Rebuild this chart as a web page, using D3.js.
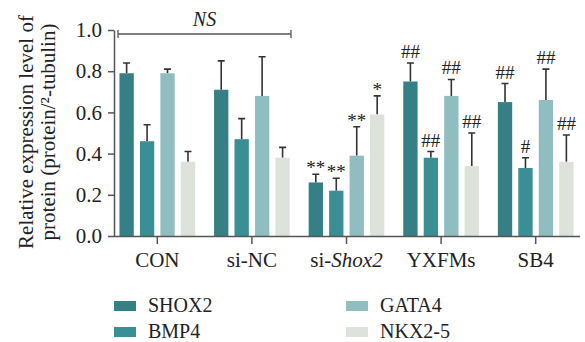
<!DOCTYPE html>
<html>
<head>
<meta charset="utf-8">
<script src="https://cdn.jsdelivr.net/npm/d3@7"></script>
<style>
  body { margin: 0; background: #fff; }
  svg text { font-family: "Liberation Serif", "DejaVu Serif", serif; fill: #222; }
</style>
</head>
<body>
<div id="chart"></div>
<script>
const width = 585, height = 342

const groups = ["CON", "si-NC", "si-Shox2", "YXFMs", "SB4"]
const series = ["SHOX2", "BMP4", "GATA4", "NKX2-5"]
const colors = ["#367f84", "#3a8f95", "#8fbdc0", "#dde3da"]

// mean values per group, in series order
const means = [
    [0.79, 0.46, 0.79, 0.36],
    [0.71, 0.47, 0.68, 0.38],
    [0.26, 0.22, 0.39, 0.59],
    [0.75, 0.38, 0.68, 0.34],
    [0.65, 0.33, 0.66, 0.36]
]
// top of error bar
const errTops = [
    [0.84, 0.54, 0.81, 0.41],
    [0.85, 0.57, 0.87, 0.43],
    [0.30, 0.28, 0.53, 0.68],
    [0.84, 0.41, 0.76, 0.50],
    [0.74, 0.38, 0.81, 0.49]
]
const marks = [
    ["", "", "", ""],
    ["", "", "", ""],
    ["**", "**", "**", "*"],
    ["##", "##", "##", "##"],
    ["##", "#", "##", "##"]
]
const yTicks = [0, 0.2, 0.4, 0.6, 0.8, 1.0]

const svg = d3.select("#chart").append("svg")
    .attr("width", width)
    .attr("height", height)

const y = d3.scaleLinear().domain([0, 1]).range([236, 30])

const x0 = d3.scaleBand()
    .domain(groups)
    .range([110, 583])
    .paddingInner(0.2)
    .paddingOuter(0.1)

const x1 = d3.scaleBand()
    .domain(series)
    .range([0, x0.bandwidth()])
    .paddingInner(0.3)

// y axis
const yAxis = svg.append("g")
    .attr("transform", "translate(114,0)")
    .call(d3.axisLeft(y).tickValues(yTicks).tickFormat(d3.format(".1f")).tickSize(6).tickSizeOuter(0))
yAxis.select(".domain").attr("stroke", "#555").attr("stroke-width", 1.5)
yAxis.selectAll(".tick line").attr("stroke", "#555").attr("stroke-width", 1.5)
yAxis.selectAll("text").attr("font-size", 21).attr("fill", "#222").attr("x", -12)

// bars
const data = []
groups.forEach(function (g, i) {
    series.forEach(function (s, j) {
        data.push({ group: g, series: s, value: means[i][j], err: errTops[i][j], mark: marks[i][j], color: colors[j] })
    })
})

const barG = svg.append("g")

// error bars
barG.selectAll(".err")
    .data(data)
    .enter()
    .append("path")
    .attr("class", "err")
    .attr("d", function (d) {
        const cx = x0(d.group) + x1(d.series) + x1.bandwidth() / 2
        return "M" + cx + "," + y(d.value) + "V" + y(d.err) + "M" + (cx - 3.5) + "," + y(d.err) + "H" + (cx + 3.5)
    })
    .attr("stroke", "#333")
    .attr("stroke-width", 1.6)
    .attr("fill", "none")

barG.selectAll("rect")
    .data(data)
    .enter()
    .append("rect")
    .attr("x", d => x0(d.group) + x1(d.series))
    .attr("y", d => y(d.value))
    .attr("width", x1.bandwidth())
    .attr("height", d => y(0) - y(d.value))
    .attr("fill", d => d.color)

barG.selectAll(".mark")
    .data(data.filter(d => d.mark !== ""))
    .enter()
    .append("text")
    .attr("class", "mark")
    .attr("x", d => x0(d.group) + x1(d.series) + x1.bandwidth() / 2)
    .attr("y", d => y(d.err) - (d.mark[0] === "*" ? 0 : 5))
    .attr("text-anchor", "middle")
    .attr("font-size", 19)
    .attr("fill", "#333")
    .text(d => d.mark)

// x axis
const xAxis = svg.append("g")
    .attr("transform", "translate(0,236)")
    .call(d3.axisBottom(x0).tickSize(8).tickSizeOuter(0).tickFormat(""))
xAxis.select(".domain").attr("d", "M114,0.5H580").attr("stroke", "#555").attr("stroke-width", 1.5)
xAxis.selectAll(".tick line").attr("stroke", "#555").attr("stroke-width", 1.5)

svg.append("g")
    .selectAll("text")
    .data(groups)
    .enter()
    .append("text")
    .attr("x", d => x0(d) + x0.bandwidth() / 2)
    .attr("y", 267)
    .attr("text-anchor", "middle")
    .attr("font-size", 21)
    .each(function (d) {
        const t = d3.select(this)
        if (d === "si-Shox2") {
            t.append("tspan").text("si-")
            t.append("tspan").attr("font-style", "italic").text("Shox2")
        } else {
            t.text(d)
        }
    })

// NS bracket
const nsY = 34
const nsX1 = 118, nsX2 = 291
svg.append("path")
    .attr("d", "M" + nsX1 + "," + (nsY - 4) + "V" + (nsY + 4) + "M" + nsX1 + "," + nsY + "H" + nsX2 + "M" + nsX2 + "," + (nsY - 4) + "V" + (nsY + 4))
    .attr("stroke", "#555")
    .attr("stroke-width", 1.3)
    .attr("fill", "none")
svg.append("text")
    .attr("x", (nsX1 + nsX2) / 2)
    .attr("y", 26)
    .attr("text-anchor", "middle")
    .attr("font-size", 20)
    .attr("font-style", "italic")
    .text("NS")

// y label
const yl = svg.append("text")
    .attr("transform", "translate(0,132) rotate(-90)")
    .attr("text-anchor", "middle")
    .attr("font-size", 21)
yl.append("tspan").attr("x", 0).attr("y", 33).text("Relative expression level of")
yl.append("tspan").attr("x", 0).attr("y", 55).text("protein (protein/²-tubulin)")

// legend
const legend = svg.append("g")
    .selectAll("g")
    .data(series)
    .enter()
    .append("g")
    .attr("transform", (d, i) => "translate(" + (i < 2 ? 114 : 346) + "," + (i % 2 === 0 ? 301 : 327) + ")")
legend.append("rect")
    .attr("width", 22)
    .attr("height", 10)
    .attr("fill", (d, i) => colors[i])
legend.append("text")
    .attr("x", 34)
    .attr("y", 10.5)
    .attr("font-size", 20)
    .text(d => d)
</script>
</body>
</html>
